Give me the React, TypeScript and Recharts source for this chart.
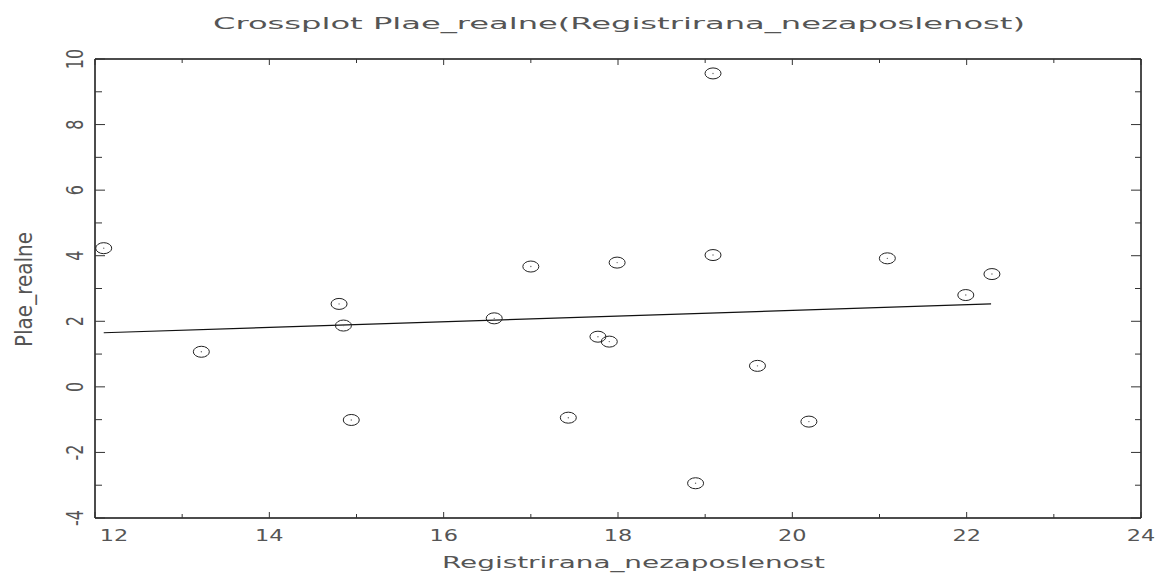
import { ScatterChart, Scatter, XAxis, YAxis } from "recharts"

const unemployment = [12.1, 13.22, 14.8, 14.85, 14.94, 16.58, 17.0, 17.43, 17.77, 17.9, 17.99, 18.89, 19.09, 19.09, 19.6, 20.19, 21.09, 21.99, 22.29]
const realWages = [4.23, 1.07, 2.53, 1.87, -1.01, 2.09, 3.67, -0.94, 1.53, 1.38, 3.79, -2.94, 9.56, 4.02, 0.64, -1.06, 3.92, 2.8, 3.44]

// regression line end points
const fitX = [12.1, 22.28]
const fitY = [1.65, 2.53]

const xTicks = [12, 13, 14, 15, 16, 17, 18, 19, 20, 21, 22, 23, 24]
const yTicks = [-4, -3, -2, -1, 0, 1, 2, 3, 4, 5, 6, 7, 8, 9, 10]

const points = unemployment.map((x, i) => ({ x, y: realWages[i] }))
const fitLine = fitX.map((x, i) => ({ x, y: fitY[i] }))

const font = "'DejaVu Sans', sans-serif"
const ink = "#555"

function Marker(props: any) {
  const { cx, cy } = props
  return (
    <g>
      <ellipse cx={cx} cy={cy} rx={8} ry={5.5} fill="none" stroke="#222" strokeWidth={1} />
      <circle cx={cx} cy={cy} r={0.7} fill="#666" />
    </g>
  )
}

function BottomTick(props: any) {
  const { x, y, payload } = props
  const v = payload.value
  const major = v % 2 === 0
  return (
    <g>
      <line x1={x} y1={y} x2={x} y2={y - (major ? 6 : 4)} stroke="#333" />
      {major && (
        <text
          transform={`translate(${v === 12 ? x + 19 : x},${y + 23}) scale(1.4,1)`}
          textAnchor="middle"
          fontFamily={font}
          fontSize={16}
          fill={ink}
        >
          {v}
        </text>
      )}
    </g>
  )
}

function TopTick(props: any) {
  const { x, y, payload } = props
  const major = payload.value % 2 === 0
  return <line x1={x} y1={y} x2={x} y2={y + (major ? 6 : 4)} stroke="#333" />
}

function LeftTick(props: any) {
  const { x, y, payload } = props
  const v = payload.value
  const major = v % 2 === 0
  return (
    <g>
      <line x1={x} y1={y} x2={x + (major ? 10 : 7)} y2={y} stroke="#333" />
      {major && (
        <text
          transform={`translate(${x - 12},${y}) scale(1.45,1) rotate(-90)`}
          textAnchor="middle"
          fontFamily={font}
          fontSize={16}
          fill={ink}
        >
          {v < 0 ? "-" + Math.abs(v) : v}
        </text>
      )}
    </g>
  )
}

function RightTick(props: any) {
  const { x, y, payload } = props
  const major = payload.value % 2 === 0
  return <line x1={x} y1={y} x2={x - (major ? 10 : 6)} y2={y} stroke="#333" />
}

const frame = { stroke: "#111", strokeWidth: 1.5 }

export default function App() {
  return (
    <div style={{ position: "absolute", left: 0, top: 0, width: 1156, height: 578, background: "#fff" }}>
      <ScatterChart width={1156} height={578} margin={{ top: 58, right: 14, bottom: 0, left: 0 }}>
        <XAxis
          type="number"
          dataKey="x"
          domain={[12, 24]}
          ticks={xTicks}
          allowDataOverflow
          height={60}
          tickSize={0}
          tickMargin={0}
          tickLine={false}
          axisLine={frame}
          tick={<BottomTick />}
          interval={0}
        />
        <XAxis
          xAxisId="top"
          orientation="top"
          type="number"
          dataKey="x"
          domain={[12, 24]}
          ticks={xTicks}
          allowDataOverflow
          height={1}
          tickSize={0}
          tickMargin={0}
          tickLine={false}
          axisLine={frame}
          tick={<TopTick />}
          interval={0}
        />
        <YAxis
          type="number"
          dataKey="y"
          domain={[-4, 10]}
          ticks={yTicks}
          allowDataOverflow
          width={95}
          tickSize={0}
          tickMargin={0}
          tickLine={false}
          axisLine={frame}
          tick={<LeftTick />}
          interval={0}
        />
        <YAxis
          yAxisId="right"
          orientation="right"
          type="number"
          dataKey="y"
          domain={[-4, 10]}
          ticks={yTicks}
          allowDataOverflow
          width={1}
          tickSize={0}
          tickMargin={0}
          tickLine={false}
          axisLine={frame}
          tick={<RightTick />}
          interval={0}
        />
        <Scatter
          xAxisId="top"
          yAxisId="right"
          data={fitLine}
          line={{ stroke: "#111", strokeWidth: 1.2 }}
          shape={() => <g />}
          isAnimationActive={false}
        />
        <Scatter data={points} shape={<Marker />} isAnimationActive={false} />
      </ScatterChart>
      <svg
        width={1156}
        height={578}
        style={{ position: "absolute", left: 0, top: 0, pointerEvents: "none" }}
      >
        <text
          x={213}
          y={29}
          textLength={812}
          lengthAdjust="spacingAndGlyphs"
          fontFamily={font}
          fontSize={16}
          fill={ink}
        >
          Crossplot Plae_realne(Registrirana_nezaposlenost)
        </text>
        <text
          x={442}
          y={568}
          textLength={383}
          lengthAdjust="spacingAndGlyphs"
          fontFamily={font}
          fontSize={16}
          fill={ink}
        >
          Registrirana_nezaposlenost
        </text>
        <text
          transform="translate(32,347) scale(1.45,1) rotate(-90)"
          textLength={115}
          lengthAdjust="spacingAndGlyphs"
          fontFamily={font}
          fontSize={16}
          fill={ink}
        >
          Plae_realne
        </text>
      </svg>
    </div>
  )
}
